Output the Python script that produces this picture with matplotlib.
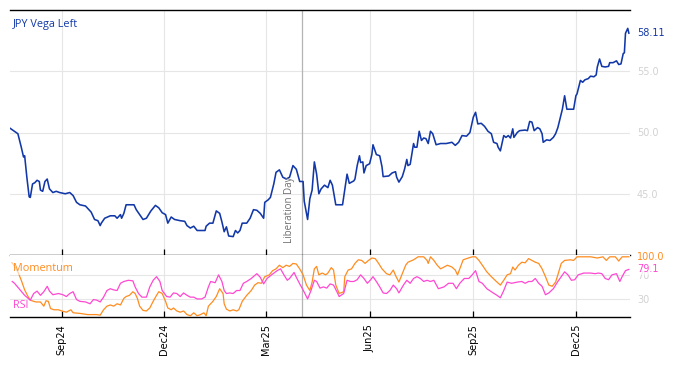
import numpy as np
import pandas as pd
import matplotlib
matplotlib.use("Agg")
import matplotlib.pyplot as plt
import matplotlib.dates as mdates
import matplotlib.transforms as mtransforms

# series start; day lists below are days since this date
START = pd.Timestamp("2024-07-17")
X_END_DAY = 550
EVENT_DATE = pd.Timestamp("2025-04-02")
EVENT_LABEL = "Liberation Day"

vega_day = [
    0, 7, 10, 12, 13, 15, 17, 18, 20, 22, 24, 26, 27, 29, 31, 33, 35, 38, 41, 44,
    49, 53, 56, 59, 62, 67, 70, 72, 73, 75, 78, 80, 81, 84, 89, 93, 95, 98, 99, 101,
    103, 108, 110, 112, 115, 118, 121, 125, 129, 132, 135, 138, 140, 143, 146, 151, 155, 157, 160, 163,
    166, 173, 174, 177, 180, 183, 186, 188, 190, 192, 194, 198, 200, 202, 204, 206, 210, 213, 216, 219,
    222, 225, 226, 229, 231, 234, 236, 239, 242, 245, 248, 251, 254, 257, 260, 261, 264, 266, 268, 270,
    272, 274, 276, 279, 282, 284, 286, 289, 293, 295, 299, 301, 305, 306, 308, 310, 311, 313, 314, 316,
    319, 321, 322, 325, 328, 330, 331, 336, 339, 342, 343, 345, 348, 350, 352, 353, 355, 358, 359, 361,
    363, 365, 367, 369, 371, 373, 375, 378, 382, 387, 392, 395, 398, 401, 405, 408, 411, 413, 415, 418,
    421, 424, 427, 429, 432, 433, 435, 438, 440, 442, 444, 446, 447, 450, 452, 457, 459, 461, 463, 465,
    468, 470, 472, 473, 476, 479, 482, 484, 486, 489, 490, 492, 494, 497, 500, 502, 503, 506, 508, 510,
    513, 515, 518, 520, 521, 523, 525, 528, 531, 532, 535, 538, 540, 542, 544, 545, 546, 548, 549,
]
vega = [
    50.35, 49.9, 48.8, 48.0, 48.1, 46.3, 44.75, 44.7, 45.8, 45.9, 46.1, 46.0, 45.3, 45.2, 46.0, 46.2, 45.4, 45.1, 45.2, 45.1,
    45.0, 45.1, 44.85, 44.3, 44.1, 44.0, 43.7, 43.5, 43.3, 42.9, 42.8, 42.4, 42.6, 43.0, 43.2, 43.2, 43.0, 43.3, 43.0, 43.4,
    44.1, 44.1, 44.1, 43.7, 43.3, 42.9, 43.0, 43.6, 44.05, 43.85, 43.45, 43.3, 42.6, 43.1, 42.9, 42.8, 42.75, 42.4, 42.2, 42.35,
    42.0, 42.0, 42.35, 42.6, 42.6, 43.6, 43.4, 42.7, 41.9, 42.3, 41.55, 41.5, 42.0, 41.8, 42.0, 42.6, 42.6, 43.0, 43.7, 43.65,
    43.4, 43.0, 44.3, 44.5, 44.7, 45.8, 46.75, 46.95, 46.35, 46.2, 46.35, 47.3, 47.0, 46.0, 46.0, 44.4, 42.9, 44.6, 45.3, 47.6,
    46.6, 45.0, 45.4, 45.7, 45.5, 46.1, 45.7, 44.1, 44.1, 44.1, 46.6, 45.85, 46.05, 46.2, 47.3, 48.1, 47.55, 47.6, 46.7, 47.3,
    47.45, 48.2, 49.0, 48.2, 48.1, 47.2, 46.4, 46.45, 46.7, 46.8, 46.35, 45.95, 46.4, 47.0, 47.8, 47.3, 47.4, 49.1, 48.8, 48.8,
    50.1, 49.35, 49.55, 49.5, 49.1, 50.1, 49.9, 49.0, 49.1, 49.1, 49.2, 48.95, 49.2, 49.75, 49.7, 50.0, 51.25, 51.65, 50.7, 50.75,
    50.5, 50.1, 49.9, 49.2, 49.1, 48.8, 48.5, 49.75, 49.6, 49.75, 49.55, 50.3, 49.6, 50.0, 50.15, 50.2, 50.15, 50.9, 50.85, 50.15,
    50.4, 50.3, 49.9, 49.2, 49.4, 49.35, 49.6, 49.9, 50.4, 51.5, 51.9, 53.0, 51.9, 51.9, 51.9, 53.0, 53.15, 54.25, 54.1, 54.3,
    54.4, 54.6, 54.55, 54.7, 55.35, 56.0, 55.4, 55.35, 55.4, 55.7, 55.7, 55.85, 55.55, 55.6, 56.45, 56.5, 58.1, 58.5, 58.11,
]

mom_day = [
    2, 7, 10, 13, 16, 18, 21, 23, 27, 30, 32, 34, 36, 39, 43, 46, 50, 54, 56, 62,
    69, 77, 80, 83, 86, 89, 92, 95, 98, 101, 103, 106, 109, 111, 113, 115, 118, 121, 124, 127,
    130, 132, 135, 138, 140, 143, 145, 148, 151, 154, 157, 160, 163, 166, 169, 172, 174, 176, 180, 183,
    186, 189, 190, 192, 195, 198, 201, 203, 206, 210, 214, 217, 220, 223, 226, 230, 233, 236, 239, 242,
    245, 248, 251, 254, 257, 260, 263, 266, 268, 270, 272, 274, 277, 280, 282, 285, 287, 289, 292, 296,
    297, 300, 303, 306, 309, 312, 315, 318, 321, 324, 327, 330, 334, 337, 340, 342, 345, 348, 351, 353,
    358, 362, 367, 370, 371, 373, 376, 379, 382, 385, 388, 392, 395, 397, 399, 402, 405, 410, 413, 416,
    419, 423, 427, 432, 435, 438, 441, 444, 446, 448, 451, 454, 457, 460, 463, 466, 469, 472, 475, 478,
    481, 484, 486, 489, 492, 497, 500, 503, 509, 515, 521, 526, 529, 532, 537, 540, 543, 549,
]
momentum = [
    90, 75, 61, 45, 34, 28, 26, 25, 25, 18, 27, 26, 14, 12, 12, 10, 8, 12, 7, 6,
    4, 4, 3, 12, 18, 20, 18, 22, 20, 31, 34, 36, 42, 39, 31, 18, 11, 10, 15, 26,
    36, 42, 39, 26, 15, 12, 15, 10, 8, 10, 4, 2, 7, 2, 4, 7, 2, 18, 26, 34,
    47, 39, 22, 13, 10, 12, 10, 12, 26, 36, 44, 53, 57, 56, 67, 70, 77, 80, 86, 82,
    86, 84, 89, 88, 80, 70, 53, 44, 58, 80, 84, 70, 73, 70, 73, 82, 78, 53, 39, 42,
    67, 78, 80, 89, 95, 94, 89, 94, 98, 97, 89, 80, 72, 70, 78, 69, 58, 72, 86, 91,
    95, 100, 100, 94, 89, 100, 94, 86, 80, 83, 86, 83, 78, 70, 80, 95, 97, 100, 100, 94,
    86, 75, 67, 58, 53, 61, 70, 72, 83, 78, 86, 91, 90, 97, 94, 91, 89, 80, 67, 53,
    51, 58, 70, 89, 94, 95, 94, 100, 100, 100, 98, 100, 94, 100, 100, 93, 100, 100,
]

rsi_day = [
    2, 4, 9, 13, 18, 21, 24, 27, 30, 33, 35, 38, 43, 47, 50, 53, 56, 59, 62, 67,
    71, 74, 77, 80, 83, 86, 89, 92, 95, 98, 101, 105, 109, 111, 114, 117, 121, 124, 127, 130,
    133, 135, 139, 142, 145, 148, 151, 154, 157, 160, 163, 166, 170, 173, 176, 178, 182, 185, 188, 190,
    192, 195, 198, 201, 204, 207, 210, 214, 219, 222, 225, 228, 232, 237, 240, 243, 246, 248, 252, 254,
    257, 260, 264, 267, 270, 272, 275, 278, 281, 284, 287, 290, 292, 296, 299, 302, 305, 308, 311, 314,
    317, 320, 322, 325, 328, 331, 334, 337, 340, 343, 345, 349, 352, 355, 358, 361, 364, 367, 370, 373,
    376, 380, 385, 389, 393, 396, 399, 403, 407, 410, 413, 416, 419, 423, 427, 432, 435, 438, 441, 445,
    450, 454, 457, 460, 463, 466, 469, 472, 475, 478, 482, 486, 489, 492, 495, 498, 501, 504, 509, 515,
    519, 522, 525, 528, 531, 534, 538, 541, 543, 546, 549,
]
rsi = [
    59, 56, 45, 36, 28, 39, 43, 36, 42, 51, 43, 37, 39, 37, 34, 39, 42, 29, 26, 25,
    22, 29, 28, 25, 33, 44, 47, 45, 44, 56, 59, 61, 60, 50, 39, 33, 33, 50, 61, 67,
    59, 44, 34, 33, 40, 39, 34, 40, 36, 33, 33, 30, 30, 33, 50, 59, 57, 70, 59, 44,
    39, 40, 39, 44, 44, 56, 59, 64, 72, 66, 55, 64, 70, 77, 80, 70, 61, 64, 74, 66,
    55, 45, 30, 44, 61, 59, 48, 50, 48, 55, 53, 42, 34, 39, 61, 59, 59, 62, 70, 64,
    56, 62, 67, 59, 50, 40, 39, 44, 53, 47, 40, 53, 61, 56, 64, 67, 64, 59, 61, 59,
    61, 47, 50, 56, 56, 47, 56, 64, 64, 70, 77, 59, 56, 47, 42, 36, 32, 44, 58, 56,
    58, 59, 56, 59, 59, 64, 56, 51, 37, 40, 47, 59, 67, 75, 70, 61, 62, 70, 73, 73,
    72, 73, 72, 64, 62, 70, 72, 59, 67, 77, 79.1,
]

vega_ticks = [45, 50, 55]
osc_ticks = [30, 70]

BLUE = "#1238a8"
ORANGE = "#ff8c1f"
PINK = "#ff48d2"
GRID = "#e6e6e6"
LABEL_GREY = "#d2d2d2"


def to_dates(days):
    return START + pd.to_timedelta(days, unit="D")


fig = plt.figure(figsize=(6.74, 3.66), dpi=100)
W, H = 674, 366
ax = fig.add_axes([10 / W, 1 - 255 / H, 620 / W, 245 / H])
ax2 = fig.add_axes([10 / W, 1 - 317 / H, 620 / W, 62 / H], sharex=ax)

ax.plot(to_dates(vega_day), vega, color=BLUE, lw=1.15, zorder=3)
ax2.plot(to_dates(mom_day), momentum, color=ORANGE, lw=0.9, zorder=3)
ax2.plot(to_dates(rsi_day), rsi, color=PINK, lw=0.9, zorder=3)

ax.set_xlim(START, START + pd.Timedelta(days=X_END_DAY))
ax.set_ylim(40, 60)
ax2.set_ylim(0, 103)

for a in (ax, ax2):
    a.xaxis.set_major_locator(mdates.MonthLocator(bymonth=[3, 6, 9, 12]))
    a.xaxis.set_major_formatter(mdates.DateFormatter("%b%y"))
    a.grid(True, color=GRID, lw=0.8, zorder=0)
    a.spines["left"].set_visible(False)
    a.spines["right"].set_visible(False)
    a.yaxis.tick_right()
    a.tick_params(axis="y", length=0, pad=5, labelsize=7, labelcolor=LABEL_GREY)
    a.tick_params(axis="x", direction="in", length=4, width=0.9)
    a.axvline(EVENT_DATE, color="#b4b4b4", lw=0.9, zorder=2)

ax.spines["top"].set_linewidth(1.0)
ax.spines["bottom"].set_linewidth(1.0)
ax2.spines["top"].set_visible(False)
ax2.spines["bottom"].set_linewidth(1.0)

ax.set_yticks(vega_ticks)
ax.yaxis.set_major_formatter(matplotlib.ticker.FormatStrFormatter("%.1f"))
ax2.set_yticks(osc_ticks)
ax.tick_params(axis="x", labelbottom=False)
ax2.tick_params(axis="x", labelsize=7, rotation=90, pad=5)

# last-value labels on the right
rtrans = mtransforms.blended_transform_factory(ax.transAxes, ax.transData)
ax.text(1.011, vega[-1], f"{vega[-1]:.2f}", transform=rtrans, color=BLUE,
        fontsize=7, va="center", ha="left")
rtrans2 = mtransforms.blended_transform_factory(ax2.transAxes, ax2.transData)
ax2.text(1.011, momentum[-1], f"{momentum[-1]:.1f}", transform=rtrans2, color=ORANGE,
         fontsize=7, va="center", ha="left", zorder=5, clip_on=False)
ax2.text(1.011, rsi[-1], f"{rsi[-1]:.1f}", transform=rtrans2, color=PINK,
         fontsize=7, va="center", ha="left", zorder=5, clip_on=False,
         bbox=dict(facecolor="white", edgecolor="none", alpha=0.6, pad=0.2))

# series labels
box = dict(facecolor="white", edgecolor="none", alpha=0.6, pad=0.5)
ax.text(0.005, 0.94, "JPY Vega Left", transform=ax.transAxes, color=BLUE,
        family="Open Sans", fontsize=7.8, va="center", ha="left")
ax2.text(0.005, 0.78, "Momentum", transform=ax2.transAxes, color=ORANGE,
         family="Open Sans", fontsize=7.8, va="center", ha="left", bbox=box, zorder=4)
ax2.text(0.005, 0.18, "RSI", transform=ax2.transAxes, color=PINK,
         family="Open Sans", fontsize=7.8, va="center", ha="left", bbox=box, zorder=4)

# event annotation
etrans = mtransforms.blended_transform_factory(ax.transData, ax.transAxes)
ax.text(EVENT_DATE - pd.Timedelta(days=6), 0.05, EVENT_LABEL, transform=etrans,
        rotation=90, color="#6e6e6e", family="Open Sans", fontsize=7,
        ha="right", va="bottom")

fig.savefig("out.png", dpi=100)
